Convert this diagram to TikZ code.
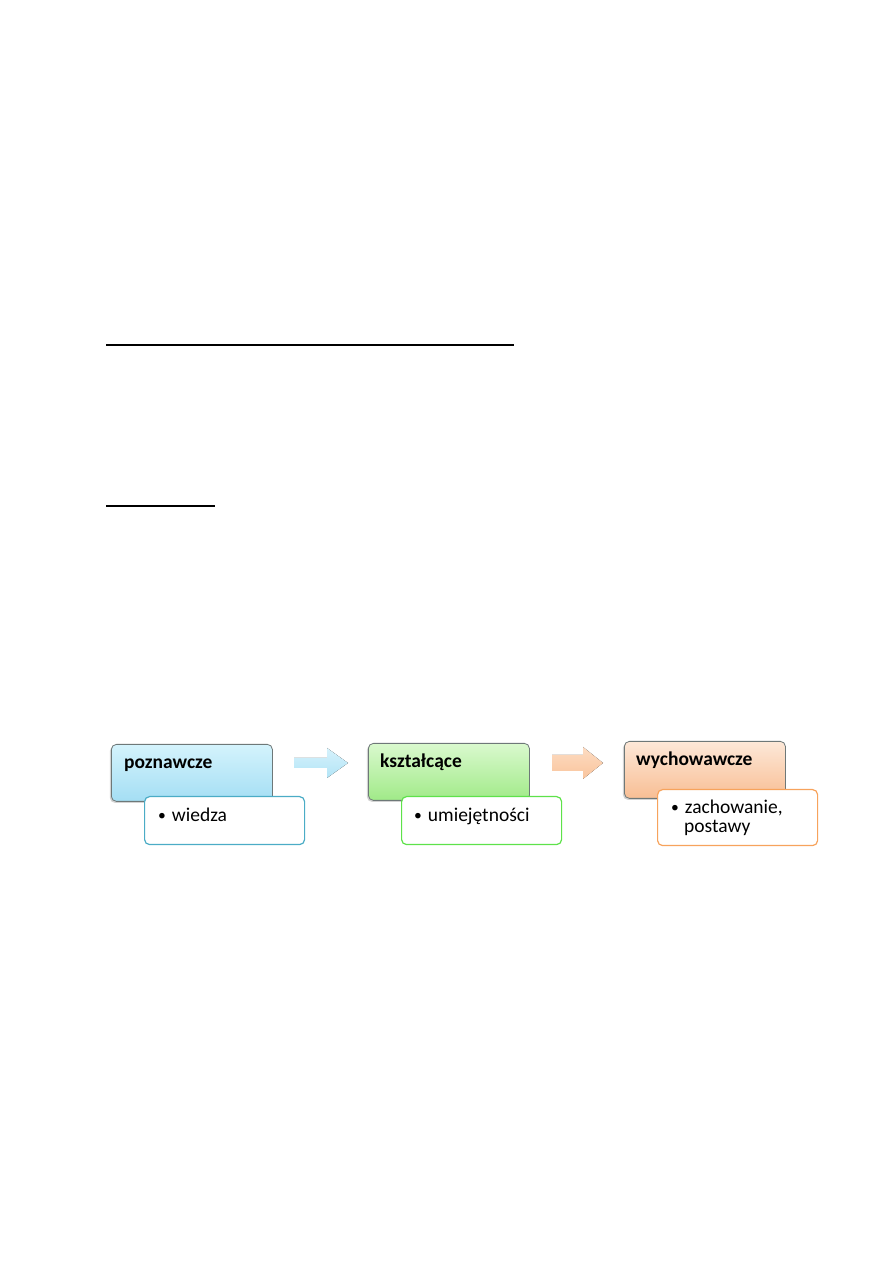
\documentclass[tikz,border=0pt]{standalone}
\usepackage{fontspec}
\setmainfont{Carlito}
\usetikzlibrary{shadows}
\definecolor{bluetop}{HTML}{D4F3FC}
\definecolor{bluebot}{HTML}{A4DEF4}
\definecolor{greentop}{HTML}{DAF9CE}
\definecolor{greenbot}{HTML}{A0EA88}
\definecolor{orangetop}{HTML}{FDE8D8}
\definecolor{orangebot}{HTML}{F8BE94}
\definecolor{blueedge}{HTML}{4BACC6}
\definecolor{greenedge}{HTML}{5EE24A}
\definecolor{orangeedge}{HTML}{F7A35C}
\definecolor{mainedge}{HTML}{6E7878}
\definecolor{arrblueT}{HTML}{D6F2FC}
\definecolor{arrblueB}{HTML}{B2E4F6}
\definecolor{arrorT}{HTML}{FDDCC2}
\definecolor{arrorB}{HTML}{F9C49C}
\newcommand{\smallbul}{\raisebox{0.15ex}{\scalebox{0.8}{\textbullet}}\hspace{6pt}}
\tikzset{
  mainbox/.style={draw=mainedge, line width=0.8pt, rounded corners=5pt, minimum width=161pt, minimum height=57pt, anchor=north west, inner sep=0pt, drop shadow={shadow xshift=-1.5pt, shadow yshift=-1.5pt, opacity=0.35}},
  subbox/.style={fill=white, line width=1.2pt, rounded corners=5pt, minimum width=160pt, minimum height=48pt, anchor=north west, inner sep=0pt},
  title/.style={anchor=base west, font=\fontsize{19.5}{23}\selectfont\bfseries, inner sep=0pt},
  item/.style={anchor=base west, font=\fontsize{19.5}{23}\selectfont, inner sep=0pt, align=left},
  rule/.style={line width=1.3pt}
}
\begin{document}
\begin{tikzpicture}[x=1pt,y=1pt]
\useasboundingbox (0,0) rectangle (893,1263);
% underlines
\coordinate (l1a) at (106,918);
\coordinate (l1b) at (514,918);
\coordinate (l2a) at (106,757);
\coordinate (l2b) at (215,757);
\draw[rule] (l1a) -- (l1b);
\draw[rule] (l2a) -- (l2b);
% box 1
\node[mainbox, top color=bluetop, bottom color=bluebot] (b1) at (111,519) {};
\node[subbox, draw=blueedge] (s1) at (144,467) {};
\node[title] (t1) at (124,494) {poznawcze};
\node[item] (i1) at (158,441) {\smallbul wiedza};
% box 2
\node[mainbox, top color=greentop, bottom color=greenbot] (b2) at (368,520) {};
\node[subbox, draw=greenedge] (s2) at (401,467) {};
\node[title] (t2) at (380,495) {kształcące};
\node[item] (i2) at (414,441) {\smallbul umiejętności};
% box 3
\node[mainbox, top color=orangetop, bottom color=orangebot] (b3) at (624,522) {};
\node[subbox, draw=orangeedge, minimum height=56pt] (s3) at (657,474) {};
\node[title] (t3) at (636,497) {wychowawcze};
\node[item] (i3) at (671,449) {\smallbul zachowanie,};
\node[item] (i3b) at (684,430) {postawy};
% arrows
\coordinate (a1) at (294,495);
\fill[top color=arrblueT, bottom color=arrblueB] (a1) -- ++(33,0) -- ++(0,-10) -- ++(21,15) -- ++(-21,15) -- ++(0,-10) -- ++(-33,0) -- cycle;
\coordinate (a2) at (552,492);
\fill[top color=arrorT, bottom color=arrorB] (a2) -- ++(31,0) -- ++(0,-8) -- ++(20,16) -- ++(-20,16) -- ++(0,-8) -- ++(-31,0) -- cycle;
\end{tikzpicture}
\end{document}
